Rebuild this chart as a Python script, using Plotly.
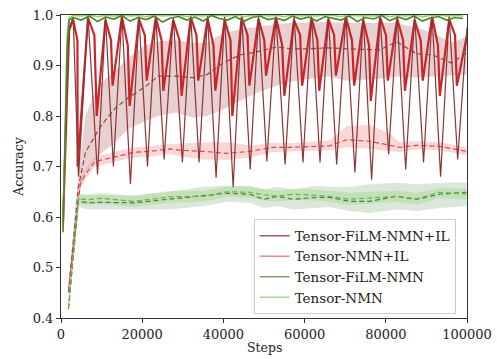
import plotly.graph_objects as go

# ---------------- data ----------------
# Tensor-FiLM-NMN+IL training accuracy (oscillating, dark red)
film_il_start_x = [500, 1200, 2000, 3000]
film_il_start_y = [0.60, 0.80, 0.975, 0.995]
dip_steps = [4300, 9000, 12900, 17100, 21300, 25400, 29900, 34000, 38200, 42400, 46600,
             50700, 55200, 59600, 63800, 67900, 72400, 76500, 80700, 84900, 89300, 93500, 97700]
film_il_dips = [0.68, 0.684, 0.70, 0.665, 0.70, 0.714, 0.708, 0.708, 0.678, 0.659, 0.694,
                0.710, 0.704, 0.708, 0.708, 0.704, 0.688, 0.674, 0.724, 0.694, 0.708, 0.68, 0.714]
peak_steps = [6650, 10950, 15000, 19200, 23350, 27650, 31950, 36100, 40300, 44500, 48650,
              52950, 57400, 61700, 65850, 70150, 74450, 78600, 82800, 87100, 91400, 95600]
film_il_peaks = [0.998, 0.996, 0.999, 0.997, 0.998, 0.996, 0.999, 0.998, 0.997, 0.999, 0.998,
                 0.997, 0.999, 0.998, 0.996, 0.999, 0.998, 0.997, 0.999, 0.998, 0.997, 0.999]
film_il_end = 0.975

# Tensor-NMN+IL training accuracy (oscillating, bright red)
nmn_il_start_y = [0.59, 0.78, 0.97, 0.99]
nmn_il_dips = [0.70, 0.80, 0.86, 0.82, 0.87, 0.85, 0.84, 0.87, 0.85, 0.80, 0.86,
               0.88, 0.84, 0.86, 0.85, 0.88, 0.86, 0.83, 0.87, 0.85, 0.87, 0.84, 0.86]
nmn_il_shoulder = [0.95, 0.96, 0.95, 0.94, 0.96, 0.95, 0.95, 0.96, 0.94, 0.95, 0.96,
                   0.95, 0.94, 0.96, 0.95, 0.96, 0.95, 0.94, 0.96, 0.95, 0.95, 0.94, 0.96]
nmn_il_peaks = [0.994, 0.99, 0.996, 0.992, 0.995, 0.99, 0.996, 0.993, 0.99, 0.995, 0.992,
                0.996, 0.99, 0.994, 0.992, 0.996, 0.99, 0.995, 0.993, 0.99, 0.996, 0.992]
nmn_il_end = 0.96

# Non-IL training accuracy (near 1.0)
train_x = [500, 1000, 1500, 2000] + [3000 + 2000 * i for i in range(49)]
film_train_y = [0.57, 0.75, 0.93, 0.99] + [
    0.995, 0.99, 0.998, 0.987, 0.996, 0.992, 0.999, 0.988, 0.995, 0.991,
    0.998, 0.986, 0.994, 0.997, 0.99, 0.996, 0.988, 0.999, 0.993, 0.99,
    0.997, 0.987, 0.995, 0.998, 0.991, 0.994, 0.989, 0.998, 0.992, 0.996,
    0.988, 0.997, 0.993, 0.99, 0.998, 0.987, 0.995, 0.992, 0.999, 0.989,
    0.996, 0.991, 0.998, 0.988, 0.994, 0.997, 0.99, 0.995, 0.993]
nmn_train_y = [0.58, 0.80, 0.96, 0.995] + [
    0.999, 0.998, 1.0, 0.997, 0.999, 0.998, 1.0, 0.998, 0.999, 0.997,
    1.0, 0.998, 0.999, 1.0, 0.997, 0.999, 0.998, 1.0, 0.999, 0.998,
    1.0, 0.997, 0.999, 1.0, 0.998, 0.999, 0.997, 1.0, 0.998, 0.999,
    0.998, 1.0, 0.999, 0.997, 1.0, 0.998, 0.999, 0.998, 1.0, 0.997,
    0.999, 0.998, 1.0, 0.997, 0.999, 1.0, 0.998, 0.999, 0.998]

# Tensor-FiLM-NMN+IL validation (dark red dashed) with band
film_il_val_x = [1840, 4300, 6020, 7740, 9710, 13390, 16580, 20760, 23950, 28130, 32560, 36000,
                 39930, 44100, 48280, 53190, 56390, 60570, 65730, 70390, 78500, 82680, 87590,
                 91520, 96190, 99880]
film_il_val = [0.451, 0.66, 0.728, 0.753, 0.779, 0.816, 0.836, 0.858, 0.879, 0.879, 0.876, 0.882,
               0.905, 0.921, 0.927, 0.937, 0.933, 0.933, 0.935, 0.933, 0.931, 0.947, 0.923,
               0.921, 0.905, 0.925]
film_il_val_hi = [0.46, 0.69, 0.80, 0.835, 0.865, 0.89, 0.915, 0.94, 0.948, 0.95, 0.945, 0.945,
                  0.964, 0.972, 0.976, 0.982, 0.984, 0.985, 0.986, 0.984, 0.984, 0.984, 0.975,
                  0.965, 0.945, 0.957]
film_il_val_lo = [0.44, 0.64, 0.69, 0.705, 0.725, 0.748, 0.775, 0.79, 0.80, 0.807, 0.797, 0.80,
                  0.813, 0.83, 0.846, 0.86, 0.868, 0.873, 0.878, 0.870, 0.874, 0.878, 0.876,
                  0.878, 0.880, 0.882]

# Tensor-NMN+IL validation (light red dashed) with band
nmn_il_val_x = [1840, 4790, 6510, 8480, 13880, 17810, 21990, 26900, 29360, 35010, 40910, 46560,
                52210, 57130, 66220, 70390, 76040, 80960, 83420, 87590, 93240, 99880]
nmn_il_val = [0.455, 0.668, 0.69, 0.71, 0.72, 0.728, 0.73, 0.735, 0.732, 0.73, 0.726, 0.73,
              0.738, 0.738, 0.741, 0.753, 0.75, 0.743, 0.738, 0.742, 0.74, 0.73]
nmn_il_val_hi = [0.465, 0.676, 0.70, 0.72, 0.73, 0.738, 0.74, 0.745, 0.745, 0.748, 0.748, 0.742,
                 0.747, 0.746, 0.752, 0.78, 0.782, 0.765, 0.748, 0.75, 0.748, 0.738]
nmn_il_val_lo = [0.445, 0.66, 0.68, 0.70, 0.71, 0.718, 0.72, 0.725, 0.72, 0.714, 0.713, 0.718,
                 0.728, 0.73, 0.732, 0.738, 0.735, 0.73, 0.728, 0.734, 0.732, 0.722]

# Green validation curves (dashed) with bands
green_val_x = [1840, 4300, 6500, 9710, 17810, 26900, 35010, 40910, 46560, 50000, 53200, 57130,
               63000, 66220, 71000, 76040, 82680, 87590, 93240, 99880]
film_val = [0.418, 0.632, 0.628, 0.629, 0.628, 0.635, 0.641, 0.647, 0.645, 0.635, 0.641, 0.635,
            0.639, 0.639, 0.631, 0.631, 0.641, 0.635, 0.645, 0.649]
film_val_hi = [0.428, 0.645, 0.642, 0.644, 0.642, 0.65, 0.66, 0.662, 0.662, 0.655, 0.66, 0.655,
               0.662, 0.66, 0.66, 0.665, 0.668, 0.665, 0.668, 0.668]
film_val_lo = [0.408, 0.62, 0.615, 0.614, 0.615, 0.615, 0.622, 0.63, 0.628, 0.618, 0.622, 0.615,
               0.618, 0.62, 0.612, 0.608, 0.615, 0.612, 0.618, 0.622]
nmn_val = [0.42, 0.636, 0.634, 0.637, 0.631, 0.64, 0.641, 0.65, 0.649, 0.644, 0.641, 0.645,
           0.643, 0.641, 0.635, 0.638, 0.641, 0.636, 0.649, 0.645]
nmn_val_hi = [0.43, 0.646, 0.645, 0.648, 0.642, 0.652, 0.652, 0.66, 0.66, 0.655, 0.652, 0.656,
              0.654, 0.652, 0.648, 0.65, 0.652, 0.648, 0.658, 0.656]
nmn_val_lo = [0.41, 0.626, 0.624, 0.626, 0.62, 0.628, 0.63, 0.64, 0.638, 0.633, 0.63, 0.634,
              0.632, 0.63, 0.624, 0.626, 0.63, 0.625, 0.638, 0.634]

series_names = ["Tensor-FiLM-NMN+IL", "Tensor-NMN+IL", "Tensor-FiLM-NMN", "Tensor-NMN"]
x_ticks = [0, 20000, 40000, 60000, 80000, 100000]
y_ticks = [0.4, 0.5, 0.6, 0.7, 0.8, 0.9, 1.0]

# ---------------- styles ----------------
C_FILM_IL = "#8e3436"
C_NMN_IL = "#c9252a"
C_FILM_IL_DASH = "#8a4848"
C_NMN_IL_DASH = "#e0484e"
C_FILM = "#4a8526"
C_NMN = "#8fcf6a"
C_FILM_DASH = "#4f7a45"
C_NMN_DASH = "#62b843"
LEG_COLORS = ["#a85858", "#e88c8c", "#7fa06c", "#a6d58c"]

FONT = "DejaVu Serif"

# ---------------- build oscillating traces ----------------
fx = list(film_il_start_x)
fy = list(film_il_start_y)
for i, d in enumerate(dip_steps):
    fx.append(d)
    fy.append(film_il_dips[i])
    if i < len(peak_steps):
        fx.append(peak_steps[i])
        fy.append(film_il_peaks[i])
fx.append(100000)
fy.append(film_il_end)

nx = list(film_il_start_x)
ny = list(nmn_il_start_y)
for i, d in enumerate(dip_steps):
    prev = peak_steps[i - 1] if i > 0 else film_il_start_x[-1]
    nx.append((prev + d) / 2 + 400)
    ny.append(nmn_il_shoulder[i])
    nx.append(d - 200)
    ny.append(nmn_il_dips[i])
    if i < len(peak_steps):
        nx.append(peak_steps[i])
        ny.append(nmn_il_peaks[i])
nx.append(100000)
ny.append(nmn_il_end)

fig = go.Figure()


def band(x, lo, hi, color):
    fig.add_trace(go.Scatter(x=list(x) + list(x)[::-1], y=list(hi) + list(lo)[::-1],
                             fill="toself", fillcolor=color, line=dict(width=0),
                             mode="lines", hoverinfo="skip", showlegend=False))


band(film_il_val_x, film_il_val_lo, film_il_val_hi, "rgba(165,85,85,0.28)")
band(nmn_il_val_x, nmn_il_val_lo, nmn_il_val_hi, "rgba(235,110,110,0.28)")
band(green_val_x, film_val_lo, film_val_hi, "rgba(110,160,100,0.25)")
band(green_val_x, nmn_val_lo, nmn_val_hi, "rgba(140,210,110,0.30)")

dash = "5px,3px"
fig.add_trace(go.Scatter(x=film_il_val_x, y=film_il_val, mode="lines",
                         line=dict(color=C_FILM_IL_DASH, width=1.2, dash=dash), showlegend=False))
fig.add_trace(go.Scatter(x=nmn_il_val_x, y=nmn_il_val, mode="lines",
                         line=dict(color=C_NMN_IL_DASH, width=1.2, dash=dash), showlegend=False))
fig.add_trace(go.Scatter(x=green_val_x, y=film_val, mode="lines",
                         line=dict(color=C_FILM_DASH, width=1.2, dash=dash), showlegend=False))
fig.add_trace(go.Scatter(x=green_val_x, y=nmn_val, mode="lines",
                         line=dict(color=C_NMN_DASH, width=1.2, dash=dash), showlegend=False))

fig.add_trace(go.Scatter(x=nx, y=ny, mode="lines",
                         line=dict(color=C_NMN_IL, width=2.2), showlegend=False))
fig.add_trace(go.Scatter(x=fx, y=fy, mode="lines",
                         line=dict(color=C_FILM_IL, width=1.2), showlegend=False))
fig.add_trace(go.Scatter(x=train_x, y=nmn_train_y, mode="lines",
                         line=dict(color=C_NMN, width=1.5), showlegend=False))
fig.add_trace(go.Scatter(x=train_x, y=film_train_y, mode="lines",
                         line=dict(color=C_FILM, width=1.6), showlegend=False))

for name, col in zip(series_names, LEG_COLORS):
    fig.add_trace(go.Scatter(x=[None], y=[None], mode="lines", name=name,
                             line=dict(color=col, width=1.5)))

axis_common = dict(showline=True, linecolor="#333333", linewidth=1, mirror=True,
                   ticks="outside", ticklen=4, tickcolor="#333333", showgrid=False,
                   zeroline=False, automargin=False,
                   tickfont=dict(family=FONT, size=13, color="#222222"))

fig.update_layout(
    width=497, height=359,
    margin=dict(l=61, r=30, t=15, b=41),
    paper_bgcolor="white", plot_bgcolor="white",
    font=dict(family=FONT, color="#222222"),
    xaxis=dict(range=[0, 100000], tickvals=x_ticks, ticktext=[str(v) for v in x_ticks],
               **axis_common),
    yaxis=dict(range=[0.4, 1.0], tickvals=y_ticks, ticktext=["%.1f" % v for v in y_ticks],
               title=dict(text="Accuracy", font=dict(family=FONT, size=12.5), standoff=6),
               **axis_common),
    legend=dict(x=0.972, y=0.012, xanchor="right", yanchor="bottom",
                bgcolor="rgba(255,255,255,0.85)", bordercolor="#cccccc", borderwidth=1,
                font=dict(family=FONT, size=13.5, color="#222222"), tracegroupgap=0),
    showlegend=True,
    annotations=[dict(text="Steps", xref="paper", yref="paper", x=0.5, y=0,
                      xanchor="center", yanchor="middle", yshift=-29, showarrow=False,
                      font=dict(family=FONT, size=12.5, color="#222222"))],
)

fig.write_html("out.html")
